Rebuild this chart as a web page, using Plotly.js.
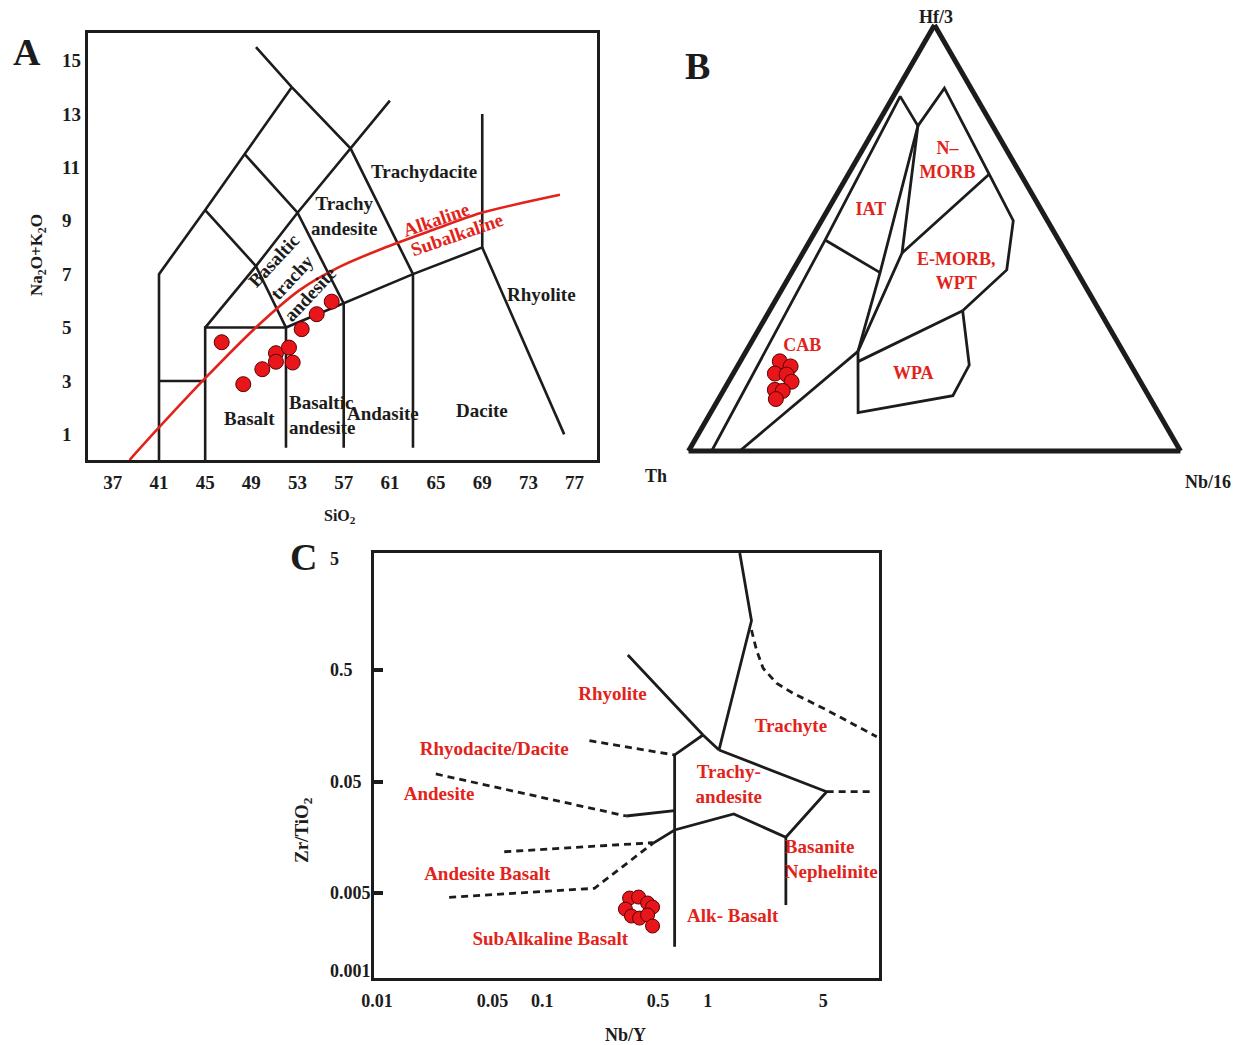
<!DOCTYPE html>
<html><head><meta charset="utf-8">
<script src="https://cdn.plot.ly/plotly-3.0.1.min.js"></script>
<style>html,body{margin:0;padding:0;background:#fff}#chart{width:1236px;height:1045px}</style>
</head><body><div id="chart"></div>
<script>
// ---------- Panel A : TAS diagram ----------
const tasTickX = [37,41,45,49,53,57,61,65,69,73,77];
const tasTickY = [1,3,5,7,9,11,13,15];
const tasSiO2   = [46.43,48.30,49.95,51.13,51.13,52.26,52.58,53.36,54.66,55.96];
const tasAlkali = [4.45,2.88,3.44,4.04,3.72,4.25,3.69,4.94,5.50,5.97];
const tasLineX = [
  [41,41,45,48.4,52.5],
  [49.4,52.5,57.6,63,63],
  [41,45],
  [45,45,52,52],
  [45,49.4,53,57.6,61],
  [45,49.4,52,57,63,69,69],
  [48.4,53,57,57],
  [69,76.1]
];
const tasLineY = [
  [0,7,9.4,11.5,14],
  [15.5,14,11.7,7,0.5],
  [3,3],
  [0,5,5,0.5],
  [5,7.3,9.3,11.7,13.5],
  [9.4,7.3,5,5.9,7,8,13],
  [11.5,9.3,5.9,0.5],
  [8,1.0]
];
const alkCurveX = [38.45,40.94,45.13,49.46,53.21,56.68,60.43,64.76,68.80,75.73];
const alkCurveY = [0.04,1.23,3.16,5.03,6.41,7.28,7.97,8.66,9.28,9.97];
const tasNames = ['Trachydacite','Trachy<br>andesite','Rhyolite','Basalt','Andasite','Dacite'];
const tasNameX = [63.95,57.11,74.17,48.88,60.4,68.98];
const tasNameY = [10.83,9.18,6.22,1.61,1.80,1.88];

// ---------- Panel B : Hf/3 - Th - Nb/16 ----------
const sampleHf3  = [0.2105,0.1986,0.1818,0.1794,0.1627,0.1435,0.1411,0.1220];
const sampleTh   = [0.7093,0.6932,0.7336,0.7109,0.7092,0.7528,0.7380,0.7615];
const sampleNb16 = [0.0802,0.1082,0.0846,0.1097,0.1281,0.1037,0.1209,0.1165];
const bndA = [
  [0,0.4952,0.8325,0.7632],
  [0.7632,0.8517,0.6498,0.5407,0.4251,0.3294],
  [0.7632,0.4187,0.2337],
  [0.7632,0.4648,0.2337],
  [0.4648,0.6498],
  [0.4952,0.4187],
  [0.2337,0],
  [0.3294,0.2098],
  [0.2337,0.0902,0.1299,0.2017,0.3294]
];
const bndB = [
  [0.953,0.4748,0.1535,0.1521],
  [0.1521,0.0540,0.0640,0.0695,0.1406,0.2781],
  [0.1521,0.4013,0.5387],
  [0.1521,0.3336,0.5387],
  [0.3336,0.0640],
  [0.4748,0.4013],
  [0.5387,0.896],
  [0.2781,0.5506],
  [0.5387,0.6102,0.3977,0.3285,0.2781]
];
const bndC = [
  [0.047,0.0300,0.0140,0.0847],
  [0.0847,0.0943,0.2862,0.3898,0.4343,0.3925],
  [0.0847,0.1800,0.2276],
  [0.0847,0.2016,0.2276],
  [0.2016,0.2862],
  [0.0300,0.1800],
  [0.2276,0.104],
  [0.3925,0.2396],
  [0.2276,0.2996,0.4724,0.4698,0.3925]
];
const fieldB = ['N\u2013<br>MORB','IAT','E-MORB,<br>WPT','CAB','WPA'];
const fieldBa = [0.6794,0.5646,0.4187,0.2464,0.1794];
const fieldBb = [0.1340,0.3470,0.2462,0.6456,0.4534];
const fieldBc = [0.1866,0.0884,0.3351,0.1080,0.3672];

// ---------- Panel C : Zr/TiO2 vs Nb/Y ----------
const nbYTicks = [0.01,0.05,0.1,0.5,1,5];
const zrTiTicks = [5,0.5,0.05,0.005,0.001];
const zrTiMarks = [0.5,0.05,0.005];
const sampleNbY  = [0.337,0.382,0.433,0.464,0.318,0.346,0.387,0.433,0.464];
const sampleZrTi = [0.00451,0.00460,0.00407,0.00374,0.00359,0.00311,0.00298,0.00318,0.00253];
const solidX = [
  [1.563,1.84,1.171],
  [0.3289,0.9365,1.171],
  [0.9365,0.631,0.631],
  [0.3216,0.631],
  [0.4662,0.631,1.437,2.97,5.24,1.171],
  [2.97,2.97]
];
const solidY = [
  [5.6,1.38,0.0959],
  [0.6815,0.1306,0.0959],
  [0.1306,0.0865,0.00165],
  [0.02453,0.02736],
  [0.01395,0.01837,0.02556,0.0158,0.0405,0.0959],
  [0.0158,0.0039]
];
const dashX = [
  [0.1927,0.631],
  [0.02269,0.3216],
  [0.05885,0.4662],
  [0.02732,0.2066,0.4662],
  [1.84,1.973,2.164,2.609,3.289,5.24,10.53],
  [5.24,9.59]
];
const dashY = [
  [0.1161,0.0865],
  [0.0584,0.02453],
  [0.01173,0.01413],
  [0.00457,0.00551,0.01395],
  [1.142,0.7556,0.5178,0.38,0.309,0.2189,0.1261],
  [0.0405,0.0405]
];
const fieldC = ['Rhyolite','Trachyte','Rhyodacite/Dacite','Trachy-<br>andesite','Andesite','Andesite Basalt','Alk- Basalt','SubAlkaline Basalt'];
const fieldCx = [0.2656,3.184,0.05118,1.341,0.02375,0.04642,1.418,0.1118];
const fieldCy = [0.2984,0.1541,0.0958,0.04556,0.03784,0.007252,0.003047,0.001895];
const fieldCleft = ['Basanite<br>Nephelinite'];
const fieldCleftX = [2.929];
const fieldCleftY = [0.00968];

// ---------- build ----------
const FONT = 'Liberation Serif, "Times New Roman", serif';
const BLACK = '#1c1c1c', RED = '#e2231a';
const marker = {size:15, color:'#e8151b', line:{color:'#5a0000', width:1}};
const traces = [];

tasLineX.forEach((xs,i)=>traces.push({type:'scatter',mode:'lines',x:xs,y:tasLineY[i],xaxis:'x',yaxis:'y',
  line:{color:BLACK,width:2.6},hoverinfo:'skip'}));
traces.push({type:'scatter',mode:'lines',x:alkCurveX,y:alkCurveY,xaxis:'x',yaxis:'y',
  line:{color:RED,width:2.6,shape:'spline',smoothing:0.8},hoverinfo:'skip'});
traces.push({type:'scatter',mode:'markers',x:tasSiO2,y:tasAlkali,xaxis:'x',yaxis:'y',marker:marker});
traces.push({type:'scatter',mode:'markers',x:[null],y:[null],xaxis:'x',yaxis:'y2',hoverinfo:'skip'});

bndA.forEach((as,i)=>traces.push({type:'scatterternary',mode:'lines',a:as,b:bndB[i],c:bndC[i],subplot:'ternary',
  line:{color:BLACK,width:2.8},hoverinfo:'skip'}));
traces.push({type:'scatterternary',mode:'markers',a:sampleHf3,b:sampleTh,c:sampleNb16,subplot:'ternary',marker:marker});
traces.push({type:'scatterternary',mode:'text',a:fieldBa,b:fieldBb,c:fieldBc,text:fieldB,subplot:'ternary',
  textposition:'middle center',textfont:{family:FONT,size:18,color:RED,weight:'bold'},hoverinfo:'skip'});

solidX.forEach((xs,i)=>traces.push({type:'scatter',mode:'lines',x:xs,y:solidY[i],xaxis:'x3',yaxis:'y3',
  line:{color:BLACK,width:2.8},hoverinfo:'skip'}));
dashX.forEach((xs,i)=>traces.push({type:'scatter',mode:'lines',x:xs,y:dashY[i],xaxis:'x3',yaxis:'y3',
  line:{color:BLACK,width:2.8,dash:'7px,5px'},hoverinfo:'skip'}));
traces.push({type:'scatter',mode:'markers',x:sampleNbY,y:sampleZrTi,xaxis:'x3',yaxis:'y3',marker:Object.assign({},marker,{size:14})});
traces.push({type:'scatter',mode:'text',x:fieldCx,y:fieldCy,text:fieldC,xaxis:'x3',yaxis:'y3',
  textposition:'middle center',textfont:{family:FONT,size:19,color:RED,weight:'bold'},hoverinfo:'skip'});
traces.push({type:'scatter',mode:'text',x:fieldCleftX,y:fieldCleftY,text:fieldCleft,xaxis:'x3',yaxis:'y3',
  textposition:'middle right',textfont:{family:FONT,size:19,color:RED,weight:'bold'},hoverinfo:'skip'});
traces.push({type:'scatter',mode:'markers',x:[null],y:[null],xaxis:'x3',yaxis:'y4',hoverinfo:'skip'});

const tf = (s)=>({family:FONT,size:s,color:BLACK,weight:'bold'});
const ax = {showgrid:false,zeroline:false,showline:true,mirror:true,linewidth:3,linecolor:BLACK,ticks:''};
const W=1236,H=1045;
const tAx = {showline:true,linewidth:5,linecolor:BLACK,showgrid:false,showticklabels:false,ticks:'',title:{text:''},min:0};

const ann = [];
const P=(px,py,text,size,extra)=>ann.push(Object.assign({xref:'paper',yref:'paper',x:px/W,y:1-py/H,text:text,showarrow:false,
  xanchor:'center',yanchor:'middle',font:{family:FONT,size:size,color:BLACK,weight:'bold'}},extra||{}));
P(27,52,'A',38); P(697,66,'B',38); P(303,557,'C',38);
P(340,516,'SiO<sub>2</sub>',16);
P(38,255,'Na<sub>2</sub>O+K<sub>2</sub>O',17,{textangle:-90});
P(303,830,'Zr/TiO<sub>2</sub>',19,{textangle:-90});
P(625,1035,'Nb/Y',18);
P(936,17,'Hf/3',18); P(656,476,'Th',18); P(1208,482,'Nb/16',18);

tasNames.forEach((t,i)=>ann.push({xref:'x',yref:'y',x:tasNameX[i],y:tasNameY[i],text:t,showarrow:false,
  font:{family:FONT,size:19,color:BLACK,weight:'bold'}}));
ann.push({xref:'x',yref:'y',x:52.05,y:1.73,text:'Basaltic<br>andesite',align:'left',xanchor:'left',showarrow:false,
  font:{family:FONT,size:19,color:BLACK,weight:'bold'}});
ann.push({xref:'x',yref:'y',x:52.49,y:6.91,text:'Basaltic<br>trachy<br>andesite',textangle:-47,showarrow:false,
  font:{family:FONT,size:19,color:BLACK,weight:'bold'}});
ann.push({xref:'x',yref:'y',x:65.05,y:9.03,text:'Alkaline',textangle:-19,showarrow:false,
  font:{family:FONT,size:19,color:RED,weight:'bold'}});
ann.push({xref:'x',yref:'y',x:66.84,y:8.47,text:'Subalkaline',textangle:-19,showarrow:false,
  font:{family:FONT,size:19,color:RED,weight:'bold'}});

// panel C frame: 553..978 px tall for log range -3.063..0.748; label axis extends 20px beyond each end
const cLo=-3.063, cHi=0.748, cTop=553, cBot=978, ext=20;
const dpp=(cHi-cLo)/(cBot-cTop);
const layout = {
  width:W,height:H,margin:{l:0,r:0,t:0,b:0},paper_bgcolor:'#fff',plot_bgcolor:'rgba(0,0,0,0)',showlegend:false,hovermode:false,
  xaxis:Object.assign({},ax,{domain:[88/W,597/W],range:[34.85,78.94],anchor:'y',tickmode:'array',tickvals:tasTickX,
    tickfont:tf(19),ticklabelstandoff:3}),
  yaxis:Object.assign({},ax,{domain:[(H-460)/H,(H-33)/H],range:[0.04,16.03],anchor:'x',showticklabels:false}),
  yaxis2:{overlaying:'y',anchor:'free',position:58/W,side:'left',range:[0.04,16.03],showline:false,showgrid:false,zeroline:false,
    ticks:'',tickmode:'array',tickvals:tasTickY,ticklabelposition:'inside',tickfont:tf(19)},
  ternary:{domain:{x:[688.5/W,1180.5/W],y:[(H-451)/H,(H-25)/H]},sum:1,bgcolor:'rgba(0,0,0,0)',aaxis:tAx,baxis:tAx,caxis:tAx},
  xaxis3:Object.assign({},ax,{domain:[374/W,879/W],type:'log',range:[-2.018,1.036],anchor:'y3',tickmode:'array',
    tickvals:nbYTicks,ticktext:nbYTicks.map(String),tickfont:tf(18),ticklabelstandoff:4}),
  yaxis3:Object.assign({},ax,{domain:[(H-cBot)/H,(H-cTop)/H],type:'log',range:[cLo,cHi],anchor:'x3',tickmode:'array',
    tickvals:zrTiMarks,ticks:'inside',ticklen:9,tickwidth:4,tickcolor:BLACK,showticklabels:false}),
  yaxis4:{domain:[(H-cBot-ext)/H,(H-cTop+ext)/H],anchor:'free',position:326/W,side:'left',type:'log',
    range:[cLo-ext*dpp,cHi+ext*dpp],showline:false,showgrid:false,
    zeroline:false,ticks:'',tickmode:'array',tickvals:zrTiTicks,ticktext:zrTiTicks.map(String),ticklabelposition:'inside',tickfont:tf(18)},
  annotations:ann
};
Plotly.newPlot('chart',traces,layout,{staticPlot:true});
</script></body></html>
